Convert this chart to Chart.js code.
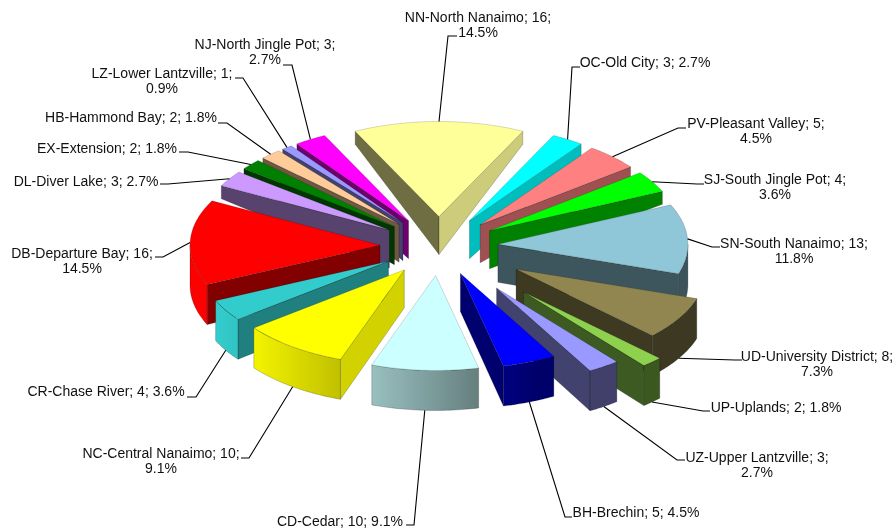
<!DOCTYPE html>
<html>
<head>
<meta charset="utf-8">
<style>
    html, body { margin: 0; padding: 0; background: #fff; }
    canvas { display: block; }
</style>
<script src="https://cdn.jsdelivr.net/npm/chart.js@4"></script>
</head>
<body>
<canvas id="myChart" width="894" height="529"></canvas>
<script>
const categories = ['NN-North Nanaimo', 'OC-Old City', 'PV-Pleasant Valley', 'SJ-South Jingle Pot', 'SN-South Nanaimo', 'UD-University District', 'UP-Uplands', 'UZ-Upper Lantzville', 'BH-Brechin', 'CD-Cedar', 'NC-Central Nanaimo', 'CR-Chase River', 'DB-Departure Bay', 'DL-Diver Lake', 'EX-Extension', 'HB-Hammond Bay', 'LZ-Lower Lantzville', 'NJ-North Jingle Pot'];
const values = [16, 3, 5, 4, 13, 8, 2, 3, 5, 10, 10, 4, 16, 3, 2, 2, 1, 3];
const sliceColors = ['#FFFF99', '#00FFFF', '#FF8080', '#00FF00', '#8FC6D8', '#918650', '#8DD14F', '#9999FF', '#0000FF', '#CCFFFF', '#FFFF00', '#33CCCC', '#FF0000', '#CC99FF', '#008000', '#FFCC99', '#9999FF', '#FF00FF'];
const explode = [59, 59, 59, 59, 59, 90, 125, 102, 59, 59, 59, 59, 59, 59, 59, 59, 59, 59];

// label text centre and leader elbow, same order as categories
const labelCentre = [[478, 18], [645, 63], [756, 124], [775, 180], [794, 244], [817, 357], [776, 408], [757, 458], [636, 513], [340, 522], [161, 454], [106, 392], [82, 254], [86, 182], [107, 149], [131, 118], [162, 74], [265, 45]];
const labelLines = [2, 1, 2, 2, 2, 2, 1, 2, 1, 1, 2, 1, 2, 1, 1, 1, 2, 2];
const leaderElbow = [[448, 36], [572, 67], [678, 128], [697, 184], [712, 247], [735, 360], [703, 411], [677, 460], [565, 517], [414, 525], [249, 458], [196, 397], [163, 257], [168, 184], [188, 152], [227, 123], [243, 78], [292, 65]];
const leaderEnd = [[457, 36], [580, 67], [686, 128], [704, 184], [720, 247], [742, 360], [710, 411], [685, 460], [572, 517], [406, 525], [241, 458], [187, 397], [155, 257], [160, 184], [179, 152], [218, 123], [235, 78], [283, 65]];

const total = values.reduce((a, b) => a + b, 0);
const squash = 0.5;
const tipDepth = 38;

function clamp01(v) {
    return Math.max(0, Math.min(1, v));
}

//walls look shallower at the back of the pie
function outerDepth(angle) {
    let t = clamp01((0.3 + Math.sin(angle)) / 0.3);
    return 13 + 27 * t;
}

function shade(hex, f) {
    let n = parseInt(hex.slice(1), 16);
    let r = Math.round((n >> 16 & 255) * f);
    let g = Math.round((n >> 8 & 255) * f);
    let b = Math.round((n & 255) * f);
    return 'rgb(' + r + ',' + g + ',' + b + ')';
}

function radialShade(nx) {
    return nx < 0.4 ? 0.43 : 0.5 + (nx - 0.4) * 0.6;
}

function arcShade(nx) {
    return Math.max(0.42, 0.6 - 0.45 * nx);
}

function sliceGeometry(el, i) {
    let mid = (el.startAngle + el.endAngle) / 2;
    let tipX = el.x + Math.cos(mid) * explode[i];
    let tipY = el.y + Math.sin(mid) * explode[i] * squash;
    return {
        tipX: tipX,
        tipY: tipY,
        mid: mid,
        at: (angle) => [tipX + Math.cos(angle) * el.outerRadius, tipY + Math.sin(angle) * el.outerRadius * squash]
    };
}

function drawRadialWall(ctx, geo, angle, color) {
    let p = geo.at(angle);
    ctx.beginPath();
    ctx.moveTo(geo.tipX, geo.tipY);
    ctx.lineTo(p[0], p[1]);
    ctx.lineTo(p[0], p[1] + outerDepth(angle));
    ctx.lineTo(geo.tipX, geo.tipY + tipDepth);
    ctx.closePath();
    ctx.fillStyle = color;
    ctx.fill();
    ctx.strokeStyle = 'rgba(0,0,0,0.3)';
    ctx.lineWidth = 0.7;
    ctx.stroke();
}

function drawArcWall(ctx, geo, from, to, color) {
    if (to <= from) return;
    let steps = 30;
    let top = [];
    let bottom = [];
    for (let s = 0; s <= steps; s++) {
        let angle = from + (to - from) * s / steps;
        let p = geo.at(angle);
        top.push(p);
        bottom.push([p[0], p[1] + outerDepth(angle)]);
    }
    let x0 = top[0][0];
    let x1 = top[steps][0];
    let grad = ctx.createLinearGradient(x0, 0, x1, 0);
    for (let s = 0; s <= steps; s++) {
        let angle = from + (to - from) * s / steps;
        let stop = x1 === x0 ? 0 : (top[s][0] - x0) / (x1 - x0);
        grad.addColorStop(clamp01(stop), shade(color, arcShade(Math.cos(angle))));
    }
    ctx.beginPath();
    top.forEach((p, s) => s ? ctx.lineTo(p[0], p[1]) : ctx.moveTo(p[0], p[1]));
    bottom.reverse().forEach((p) => ctx.lineTo(p[0], p[1]));
    ctx.closePath();
    ctx.fillStyle = grad;
    ctx.fill();
    ctx.strokeStyle = 'rgba(0,0,0,0.3)';
    ctx.lineWidth = 0.7;
    ctx.stroke();
}

function drawTop(ctx, geo, el, color) {
    ctx.beginPath();
    ctx.moveTo(geo.tipX, geo.tipY);
    let steps = 40;
    for (let s = 0; s <= steps; s++) {
        let p = geo.at(el.startAngle + (el.endAngle - el.startAngle) * s / steps);
        ctx.lineTo(p[0], p[1]);
    }
    ctx.closePath();
    ctx.fillStyle = color;
    ctx.fill();
    ctx.strokeStyle = 'rgba(0,0,0,0.25)';
    ctx.lineWidth = 0.6;
    ctx.stroke();
}

function drawLabel(ctx, geo, el, i) {
    let tail = geo.at(geo.mid);
    if (Math.sin(geo.mid) > 0) tail[1] += outerDepth(geo.mid);
    ctx.beginPath();
    ctx.moveTo(tail[0], tail[1]);
    ctx.lineTo(leaderElbow[i][0], leaderElbow[i][1]);
    ctx.lineTo(leaderEnd[i][0], leaderEnd[i][1]);
    ctx.strokeStyle = '#000';
    ctx.lineWidth = 1.1;
    ctx.stroke();

    let pct = (values[i] / total * 100).toFixed(1) + '%';
    let first = categories[i] + '; ' + values[i] + ';';
    ctx.fillStyle = '#111';
    ctx.font = '14px "Liberation Sans"';
    ctx.textAlign = 'center';
    ctx.textBaseline = 'middle';
    if (labelLines[i] === 2) {
        ctx.fillText(first, labelCentre[i][0], labelCentre[i][1]);
        ctx.fillText(pct, labelCentre[i][0], labelCentre[i][1] + 15);
    } else {
        ctx.fillText(first + ' ' + pct, labelCentre[i][0], labelCentre[i][1]);
    }
}

//flattens the library's arcs and gives them walls, back slices first
const pie3d = {
    id: 'pie3d',
    beforeDatasetsDraw(chart) {
        const ctx = chart.ctx;
        const arcs = chart.getDatasetMeta(0).data;
        let order = arcs.map((el, i) => i);
        let midSin = (i) => Math.sin((arcs[i].startAngle + arcs[i].endAngle) / 2);
        order.sort((a, b) => midSin(a) - midSin(b));

        order.forEach((i) => {
            let el = arcs[i];
            let geo = sliceGeometry(el, i);
            let color = sliceColors[i];
            let startVisible = -Math.cos(el.startAngle) > 0;
            let endVisible = Math.cos(el.endAngle) > 0;
            if (startVisible) drawRadialWall(ctx, geo, el.startAngle, shade(color, radialShade(Math.sin(el.startAngle))));
            if (endVisible) drawRadialWall(ctx, geo, el.endAngle, shade(color, radialShade(-Math.sin(el.endAngle))));
            // front facing part of the rim lies between 0 and PI
            let two = Math.PI * 2;
            for (let k = -1; k <= 1; k++) {
                let from = Math.max(el.startAngle, k * two);
                let to = Math.min(el.endAngle, k * two + Math.PI);
                drawArcWall(ctx, geo, from, to, color);
            }
            drawTop(ctx, geo, el, color);
        });

        arcs.forEach((el, i) => drawLabel(ctx, sliceGeometry(el, i), el, i));
        return false;
    }
};

new Chart(document.getElementById('myChart').getContext('2d'), {
    type: 'pie',
    data: {
        labels: categories,
        datasets: [{
            data: values,
            backgroundColor: sliceColors,
            offset: explode,
            borderWidth: 0
        }]
    },
    options: {
        responsive: false,
        animation: false,
        radius: 190,
        rotation: -values[0] / total * 180,
        layout: { padding: { left: 0, right: 16, top: 0, bottom: 37 } },
        plugins: {
            legend: { display: false },
            tooltip: { enabled: false }
        }
    },
    plugins: [pie3d]
});
</script>
</body>
</html>
